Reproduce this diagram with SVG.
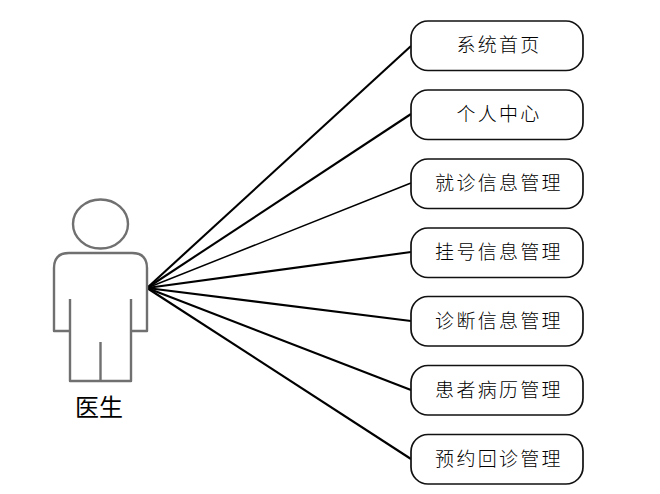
<svg xmlns="http://www.w3.org/2000/svg" width="660" height="494" viewBox="0 0 660 494">
<style>
.box{fill:#fff;stroke:#111;stroke-width:1.7}
.lb{font-family:"Noto Sans CJK SC",sans-serif;font-size:19px;font-weight:300;letter-spacing:2.3px;fill:#000;text-anchor:middle}
.c{stroke:#000;fill:none;stroke-width:2.1}
.a{fill:none;stroke:#707070;stroke-width:2.4;stroke-linejoin:round}
</style>
<rect width="660" height="494" fill="#fff"/>
<g id="connectors">
<line class="c" x1="147" y1="288" x2="411" y2="46"/>
<line class="c" x1="147" y1="288" x2="411" y2="114"/>
<line class="c" x1="147" y1="288" x2="411" y2="183" style="stroke-width:1.5"/>
<line class="c" x1="147" y1="288" x2="411" y2="252"/>
<line class="c" x1="147" y1="288" x2="411" y2="321"/>
<line class="c" x1="147" y1="288" x2="411" y2="390"/>
<line class="c" x1="147" y1="288" x2="411" y2="459"/>
</g>
<g id="actor">
<ellipse class="a" cx="100.500" cy="224" rx="27.500" ry="24.500"/>
<path class="a" d="M70 299V331H54V268Q54 253 69 253H132Q147 253 147 268V331H131V299M70 331V381H131V331M100.500 342V381"/>
<text x="99" y="416" style="font-family:'Noto Sans CJK SC',sans-serif;font-size:24px;fill:#000;text-anchor:middle">医生</text>
</g>
<g id="n1"><rect class="box" x="411" y="21" width="172" height="49.500" rx="17"/><text class="lb" x="499" y="52">系统首页</text></g>
<g id="n2"><rect class="box" x="411" y="90" width="172" height="49.500" rx="17"/><text class="lb" x="499" y="121">个人中心</text></g>
<g id="n3"><rect class="box" x="411" y="159" width="172" height="49.500" rx="17"/><text class="lb" x="499" y="190">就诊信息管理</text></g>
<g id="n4"><rect class="box" x="411" y="228" width="172" height="49.500" rx="17"/><text class="lb" x="499" y="259">挂号信息管理</text></g>
<g id="n5"><rect class="box" x="411" y="296.500" width="172" height="49.500" rx="17"/><text class="lb" x="499" y="328">诊断信息管理</text></g>
<g id="n6"><rect class="box" x="411" y="365.500" width="172" height="49.500" rx="17"/><text class="lb" x="499" y="397">患者病历管理</text></g>
<g id="n7"><rect class="box" x="411" y="434.500" width="172" height="49.500" rx="17"/><text class="lb" x="499" y="466">预约回诊管理</text></g>
</svg>
